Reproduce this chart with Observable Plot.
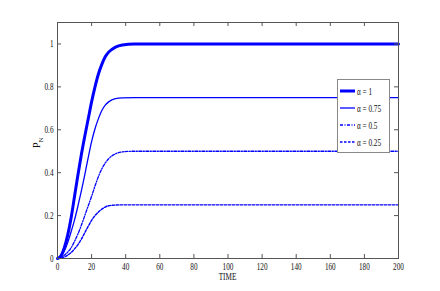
<!DOCTYPE html>
<html>
<head>
<meta charset="utf-8">
<script src="https://cdn.jsdelivr.net/npm/d3@7"></script>
<script src="https://cdn.jsdelivr.net/npm/@observablehq/plot@0.6"></script>
<style>
  html, body { margin: 0; padding: 0; background: white; }
</style>
</head>
<body>
<div id="chart"></div>
<script>
// Time samples (shared by all series)
const time = [0, 2, 4, 6, 8, 10, 12, 14, 16, 18, 20, 22, 24, 26, 28, 30, 34, 38, 45, 60, 200];
// P_N values for each alpha
const alpha1    = [0, 0.012, 0.05, 0.11, 0.19, 0.29, 0.39, 0.485, 0.57, 0.65, 0.73, 0.8, 0.86, 0.905, 0.94, 0.962, 0.985, 0.995, 1, 1, 1];
const alpha075  = [0, 0.008, 0.035, 0.075, 0.125, 0.18, 0.245, 0.315, 0.39, 0.47, 0.545, 0.605, 0.652, 0.69, 0.715, 0.73, 0.745, 0.749, 0.75, 0.75, 0.75];
const alpha05   = [0, 0.004, 0.015, 0.03, 0.05, 0.08, 0.115, 0.155, 0.2, 0.245, 0.29, 0.338, 0.382, 0.418, 0.445, 0.465, 0.488, 0.497, 0.5, 0.5, 0.5];
const alpha025  = [0, 0.002, 0.007, 0.016, 0.028, 0.045, 0.065, 0.09, 0.12, 0.15, 0.178, 0.2, 0.217, 0.23, 0.24, 0.246, 0.249, 0.25, 0.25, 0.25, 0.25];

const seriesNames = ["α = 1", "α = 0.75", "α = 0.5", "α = 0.25"];
const seriesValues = [alpha1, alpha075, alpha05, alpha025];
const seriesWidth = [3, 1.3, 1.3, 1.4];
const seriesDash = [null, null, "3,1.5,1,1.5", "2.5,1.5"];

const xTicks = [0, 20, 40, 60, 80, 100, 120, 140, 160, 180, 200];
const yTicks = [0, 0.2, 0.4, 0.6, 0.8, 1];
const yTickLabels = ["0", "0.2", "0.4", "0.6", "0.8", "1"];

const W = 440, H = 291, mL = 57, mR = 42, mT = 22, mB = 33;
const innerW = W - mL - mR, innerH = H - mT - mB;
const TL = 4; // inward tick length
const blue = "#0000ff";
const axisColor = "#555";
const textColor = "#111";

const lineMarks = seriesValues.map((vals, i) =>
  Plot.line(time.map((t, j) => ({t, v: vals[j]})), {
    x: "t", y: "v", stroke: blue, strokeWidth: seriesWidth[i],
    strokeDasharray: seriesDash[i], curve: "monotone-x"
  })
);

const chart = Plot.plot({
  width: W, height: H,
  marginLeft: mL, marginRight: mR, marginTop: mT, marginBottom: mB,
  x: {domain: [0, 200]},
  y: {domain: [0, 1.1]},
  style: {fontFamily: "Liberation Serif", fontSize: "10px", background: "white", color: textColor},
  marks: [
    ...lineMarks,
    Plot.frame({stroke: axisColor, strokeWidth: 1}),
    Plot.ruleX(xTicks, {x: d => d, insetTop: innerH - TL, stroke: axisColor}),
    Plot.ruleX(xTicks, {x: d => d, insetBottom: innerH - TL, stroke: axisColor}),
    Plot.ruleY(yTicks, {y: d => d, insetRight: innerW - TL, stroke: axisColor}),
    Plot.ruleY(yTicks, {y: d => d, insetLeft: innerW - TL, stroke: axisColor}),
    Plot.axisX({ticks: xTicks, tickSize: 0, tickPadding: 4, label: null, fill: textColor, tickFormat: d => String(d)}),
    Plot.axisY({ticks: yTicks, tickSize: 0, tickPadding: 4, label: null, fill: textColor,
                tickFormat: d => yTickLabels[yTicks.indexOf(d)]})
  ]
});

document.getElementById("chart").appendChild(chart);

const svg = d3.select(chart);
const SX = 0.72;
// compress tick labels horizontally like the reference
svg.selectAll("g[aria-label='x-axis tick label'] text, g[aria-label='y-axis tick label'] text")
  .each(function() {
    const tr = this.getAttribute("transform") || "";
    this.setAttribute("transform", tr + ` scale(${SX},1)`);
  });

// x-axis title
svg.append("text")
  .attr("transform", `translate(${mL + innerW / 2},280) scale(${SX},1)`)
  .attr("text-anchor", "middle")
  .attr("font-family", "Liberation Serif").attr("font-size", 10).attr("fill", textColor)
  .text("TIME");

// y-axis title P_N
const yt = svg.append("text")
  .attr("transform", `translate(40,148) rotate(-90)`)
  .attr("text-anchor", "start")
  .attr("font-family", "Liberation Serif").attr("font-size", 10).attr("fill", textColor);
yt.append("tspan").text("P");
yt.append("tspan").attr("font-size", 7).attr("dy", 2.5).text("N");

// legend
const lg = svg.append("g");
lg.append("rect").attr("x", 337.5).attr("y", 79.5).attr("width", 52).attr("height", 73)
  .attr("fill", "white").attr("stroke", "#888");
const rowY = [91, 108, 125, 142];
seriesNames.forEach((name, i) => {
  lg.append("line").attr("x1", 340).attr("x2", 355).attr("y1", rowY[i]).attr("y2", rowY[i])
    .attr("stroke", blue).attr("stroke-width", seriesWidth[i])
    .attr("stroke-dasharray", seriesDash[i]);
  lg.append("text")
    .attr("transform", `translate(357,${rowY[i] + 3.5}) scale(${SX},1)`)
    .attr("text-anchor", "start")
    .attr("font-family", "Liberation Serif").attr("font-size", 10).attr("fill", textColor)
    .text(name);
});
</script>
</body>
</html>
